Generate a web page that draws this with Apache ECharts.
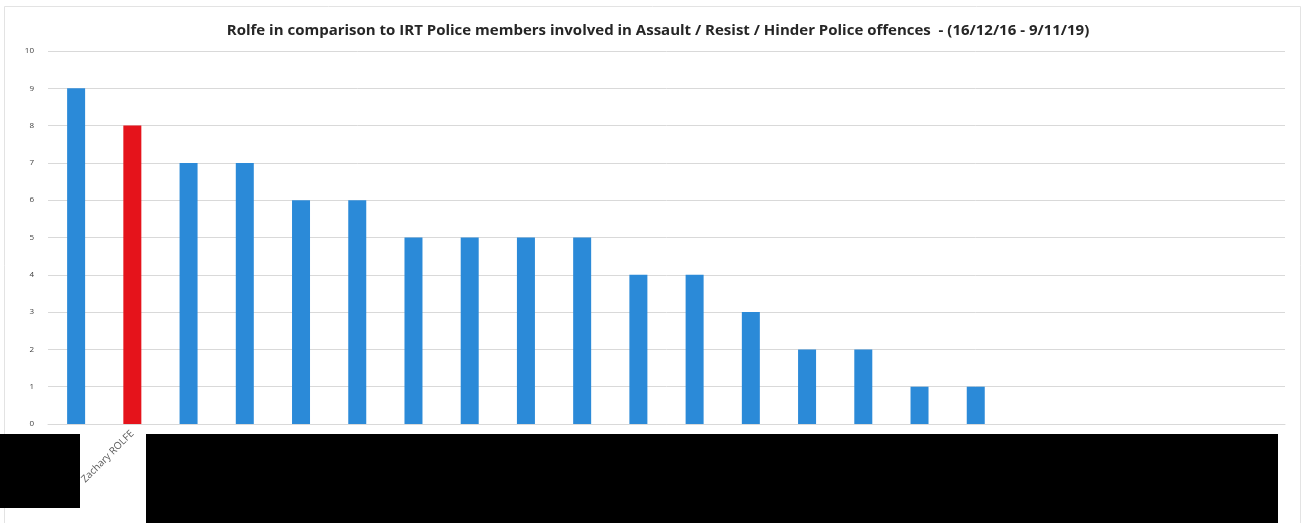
<!DOCTYPE html>
<html>
<head>
<meta charset="utf-8">
<script src="https://cdn.jsdelivr.net/npm/echarts@6/dist/echarts.min.js"></script>
<style>
  html, body { margin: 0; padding: 0; background: #ffffff; }
  #chart { width: 1311px; height: 523px; }
</style>
</head>
<body>
<div id="chart"></div>
<script>
// Offence counts per member; names other than Rolfe are withheld
const categories = ['', 'Zachary ROLFE', '', '', '', '', '', '', '', '', '', '', '', '', '', '', '', '', '', '', '', ''];
const offences = [9, 8, 7, 7, 6, 6, 5, 5, 5, 5, 4, 4, 3, 2, 2, 1, 1, 0, 0, 0, 0, 0];
const highlightName = 'Zachary ROLFE';
const yTicks = { min: 0, max: 10, interval: 1 };
const titleText = 'Rolfe in comparison to IRT Police members involved in Assault / Resist / Hinder Police offences  - (16/12/16 - 9/11/19)';

const BLUE = '#2b8ad8';
const RED = '#e5131b';

const chart = echarts.init(document.getElementById('chart'));
chart.setOption({
  animation: false,
  backgroundColor: '#ffffff',
  title: {
    text: titleText,
    left: 653,
    textAlign: 'center',
    top: 18,
    textStyle: { fontFamily: 'Open Sans', fontWeight: 'bold', fontSize: 15, color: '#262626', letterSpacing: -0.3 }
  },
  grid: { left: 48, right: 26, top: 51, bottom: 99 },
  xAxis: {
    type: 'category',
    data: categories,
    axisLine: { lineStyle: { color: '#d9d9d9' } },
    axisTick: { show: false },
    axisLabel: {
      interval: 0,
      rotate: 45,
      fontFamily: 'Open Sans',
      fontSize: 10,
      color: '#595959',
      margin: 8
    }
  },
  yAxis: {
    type: 'value',
    min: yTicks.min,
    max: yTicks.max,
    interval: yTicks.interval,
    axisLine: { show: false },
    axisTick: { show: false },
    axisLabel: { fontFamily: 'Open Sans', fontSize: 8, color: '#404040', margin: 14 },
    splitLine: { lineStyle: { color: '#d9d9d9', width: 1 } }
  },
  series: [{
    type: 'bar',
    barWidth: 18,
    data: offences.map((v, i) => ({
      value: v,
      itemStyle: { color: categories[i] === highlightName ? RED : BLUE }
    }))
  }],
  graphic: [
    // chart frame
    { type: 'rect', shape: { x: 4.5, y: 6.5, width: 1296, height: 530 }, style: { fill: 'none', stroke: '#e3e3e3', lineWidth: 1 }, silent: true },
    // redaction blocks over withheld names
    { type: 'rect', shape: { x: 0, y: 434, width: 80, height: 74 }, style: { fill: '#000000' }, z: 100 },
    { type: 'rect', shape: { x: 146, y: 434, width: 1132, height: 89 }, style: { fill: '#000000' }, z: 100 }
  ]
});
</script>
</body>
</html>
